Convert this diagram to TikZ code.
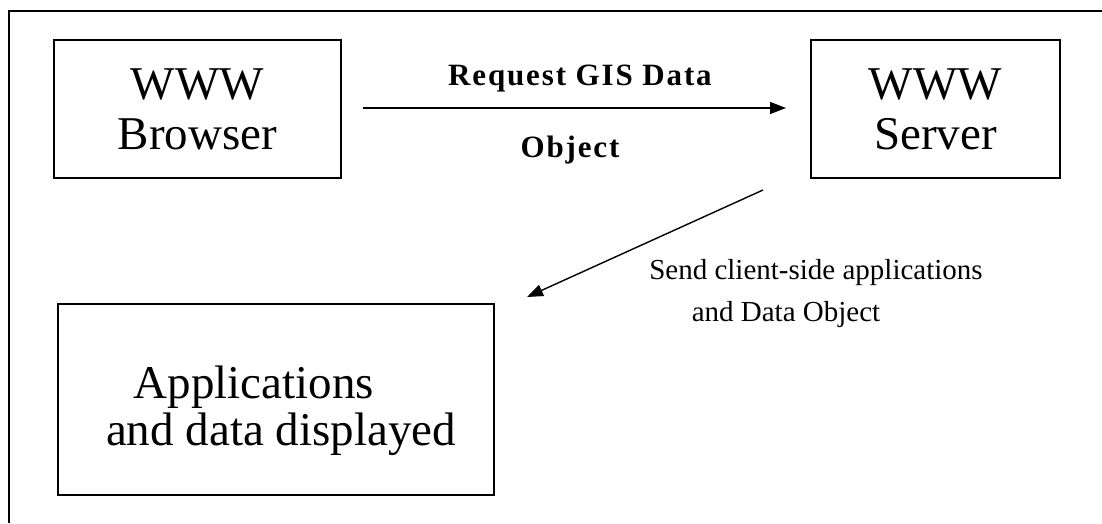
\documentclass[tikz,border=0pt]{standalone}
\usepackage{fontspec}
\setmainfont{Liberation Serif}
\usetikzlibrary{arrows.meta}
\begin{document}
\begin{tikzpicture}[x=1pt,y=-1pt,
  boxstyle/.style={draw=black,line width=2.1pt,rectangle,inner sep=0pt,align=center,font=\fontsize{47}{50}\selectfont},
  arrowstyle/.style={line width=1.4pt,-{Triangle[length=16pt,width=12pt]}},
  lbl/.style={inner sep=0pt,font=\fontsize{29}{34}\selectfont},
  boldlbl/.style={inner sep=0pt,font=\bfseries\fontsize{31}{34}\selectfont\addfontfeature{LetterSpace=6}}]
\useasboundingbox (0,0) rectangle (1102,523);
\draw[line width=2.1pt] (1102,11) -- (9,11) -- (9,523);
\node[boxstyle,minimum width=287pt,minimum height=138pt] (browser) at (197.5,109) {WWW\\Browser};
\node[boxstyle,minimum width=249pt,minimum height=138pt] (server) at (935.5,109) {WWW\\Server};
\node[boxstyle,minimum width=436pt,minimum height=191pt] (apps) at (276,399.5) {};
\node[inner sep=0pt,align=center,font=\fontsize{47}{47}\selectfont] (appstext) at (281,411) {Applications\hspace*{54pt}\\and data displayed};
\coordinate (a1s) at (363,108);
\coordinate (a1e) at (786,108);
\coordinate (a2s) at (763,190);
\coordinate (a2e) at (527,297);
\draw[arrowstyle] (a1s) -- (a1e);
\draw[arrowstyle] (a2s) -- (a2e);
\node[boldlbl] (req) at (580,79) {Request GIS Data};
\node[boldlbl] (obj) at (570,150) {Object};
\node[lbl] (send1) at (816,273) {Send client-side applications};
\node[lbl] (send2) at (786,315) {and Data Object};
\end{tikzpicture}
\end{document}
